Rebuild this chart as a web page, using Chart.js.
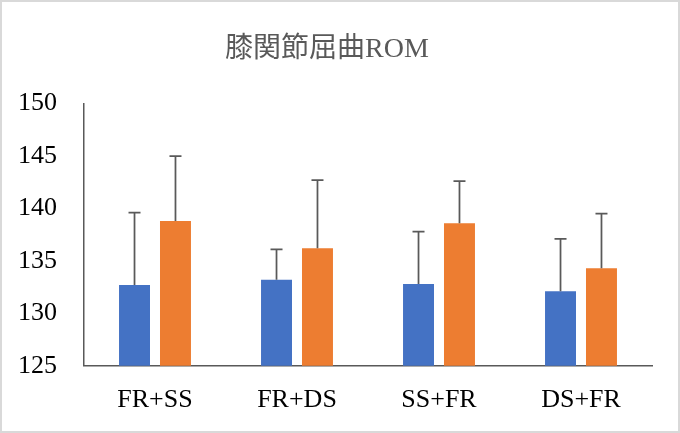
<!DOCTYPE html>
<html>
<head>
<meta charset="utf-8">
<script src="https://cdn.jsdelivr.net/npm/chart.js@4/dist/chart.umd.min.js"></script>
<style>
  html, body { margin: 0; padding: 0; background: #fff; }
  #wrap { width: 680px; height: 433px; box-sizing: border-box; border: 2px solid #d9d9d9; position: relative; }
</style>
</head>
<body>
<div id="wrap"><canvas id="c"></canvas></div>
<script>
// 膝関節屈曲ROM — 平均値とSD（上側のみ）

const categories = ['FR+SS', 'FR+DS', 'SS+FR', 'DS+FR'];
const blueMeans = [132.7, 133.2, 132.8, 132.1];
const blueSD = [6.9, 2.9, 5.0, 5.0];
const orangeMeans = [138.8, 136.2, 138.6, 134.3];
const orangeSD = [6.2, 6.5, 4.0, 5.2];
const yTicks = [125, 130, 135, 140, 145, 150];

const serif = '"Liberation Serif", "DejaVu Serif", serif';

// 上向きのエラーバーを描く
const errorBars = {
  id: 'errorBars',
  afterDatasetsDraw(chart) {
    const { ctx } = chart;
    const y = chart.scales.y;
    chart.data.datasets.forEach((ds, i) => {
      const meta = chart.getDatasetMeta(i);
      meta.data.forEach((bar, j) => {
        const top = y.getPixelForValue(ds.data[j] + ds.sd[j]);
        ctx.save();
        ctx.strokeStyle = '#595959';
        ctx.lineWidth = 1.75;
        ctx.beginPath();
        ctx.moveTo(bar.x, bar.y);
        ctx.lineTo(bar.x, top);
        ctx.moveTo(bar.x - 6, top);
        ctx.lineTo(bar.x + 6, top);
        ctx.stroke();
        ctx.restore();
      });
    });
  }
};

new Chart(document.getElementById('c'), {
  type: 'bar',
  data: {
    labels: categories,
    datasets: [
      { data: blueMeans, sd: blueSD, backgroundColor: '#4472C4', categoryPercentage: 0.577, barPercentage: 0.756 },
      { data: orangeMeans, sd: orangeSD, backgroundColor: '#ED7D31', categoryPercentage: 0.577, barPercentage: 0.756 }
    ]
  },
  options: {
    responsive: true,
    maintainAspectRatio: false,
    animation: false,
    layout: { padding: { left: 0, right: 26, top: 0, bottom: 4 } },
    plugins: {
      legend: { display: false },
      tooltip: { enabled: false },
      title: {
        display: true,
        text: '膝関節屈曲ROM',
        color: '#595959',
        font: { family: serif + ', "Noto Sans CJK JP"', size: 28, weight: 'normal' },
        padding: { top: 31, bottom: 37 }
      }
    },
    scales: {
      x: {
        grid: { display: false },
        border: { display: true, color: '#595959', width: 1.5 },
        ticks: { color: '#000', font: { family: serif, size: 26 }, padding: 11 }
      },
      y: {
        min: 125,
        max: 150,
        afterBuildTicks: s => { s.ticks = yTicks.map(v => ({ value: v })); },
        afterFit: s => { s.width = 82; },
        grid: { display: false, drawTicks: false },
        border: { display: true, color: '#595959', width: 1.5 },
        ticks: { color: '#000', font: { family: serif, size: 26 }, padding: 27 }
      }
    }
  },
  plugins: [errorBars]
});
</script>
</body>
</html>
